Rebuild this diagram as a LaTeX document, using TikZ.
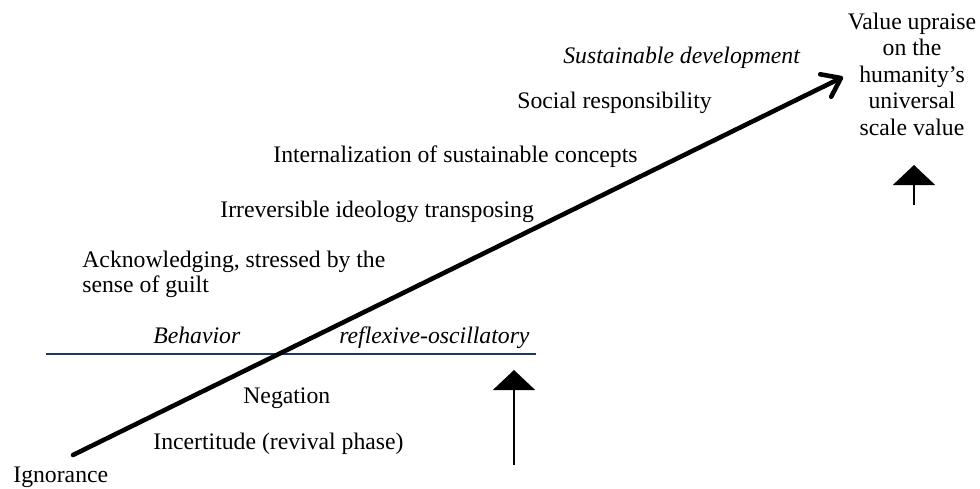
\documentclass[tikz,border=0pt]{standalone}
\usepackage{fontspec}
\setmainfont{Liberation Serif}
\usetikzlibrary{arrows.meta}
\definecolor{navy}{HTML}{1F3864}

\begin{document}
\begin{tikzpicture}[x=0.02cm,y=-0.02cm,
    lbl/.style={font=\fontsize{13.5}{14.2}\selectfont,anchor=base west,inner sep=0pt},
    ilbl/.style={lbl,font=\fontsize{13.5}{14.2}\selectfont\itshape},
    mainarrow/.style={line width=2.6pt,line cap=round,-{Straight Barb[length=3.4mm,width=5mm,line cap=round,line join=round]}},
    uparrow/.style={line width=1.1pt,-{Triangle[length=4mm,width=8.4mm]}}]
\useasboundingbox (0,0) rectangle (980,488);
    % labels along the rise
    \node[lbl] (ign) at (13,482) {Ignorance};
    \node[lbl] (inc) at (153,449) {Incertitude (revival phase)};
    \node[lbl] (neg) at (243,403) {Negation};
    \node[ilbl] (beh) at (153,343) {Behavior};
    \node[ilbl] (refl) at (339,343) {reflexive-oscillatory};
    \node[lbl,align=left] (ack) at (82,292) {Acknowledging, stressed by the\\sense of guilt};
    \node[lbl] (irr) at (220,217) {Irreversible ideology transposing};
    \node[lbl] (int) at (273,162) {Internalization of sustainable concepts};
    \node[lbl] (soc) at (517,108) {Social responsibility};
    \node[ilbl] (sus) at (563,63) {Sustainable development};
    \node[lbl,anchor=base,align=center,font=\fontsize{13.5}{15}\selectfont] (val) at (912,135) {Value upraise\\on the\\humanity's\\universal\\scale value};
    % lines and arrows
    \coordinate (lineL) at (46,354);
    \coordinate (lineR) at (536,354);
    \draw[navy,line width=1.1pt] (lineL) -- (lineR);
    \coordinate (riseA) at (73,455);
    \coordinate (riseB) at (843,77);
    \draw[mainarrow] (riseA) -- (riseB);
    \coordinate (upA1) at (514,465);
    \coordinate (upA2) at (514,370);
    \draw[uparrow] (upA1) -- (upA2);
    \coordinate (upB1) at (914,205);
    \coordinate (upB2) at (914,165);
    \draw[uparrow] (upB1) -- (upB2);
\end{tikzpicture}
\end{document}
